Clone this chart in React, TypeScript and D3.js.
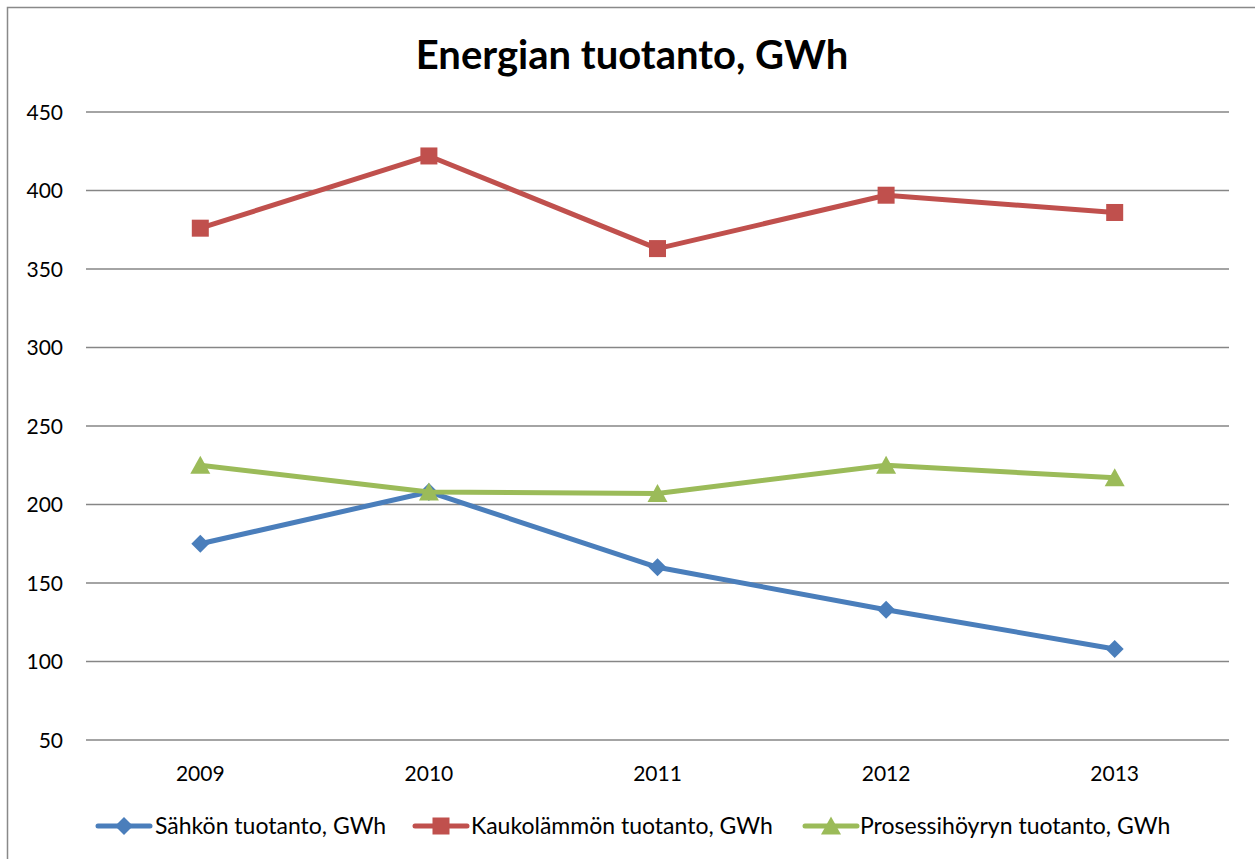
import React from "react";
import * as d3 from "d3";

const years = ["2009", "2010", "2011", "2012", "2013"];
const sahko = [175, 208, 160, 133, 108];
const kaukolampo = [376, 422, 363, 397, 386];
const prosessihoyry = [225, 208, 207, 225, 217];
const yTicks = [50, 100, 150, 200, 250, 300, 350, 400, 450];
const seriesNames = ["Sähkön tuotanto, GWh", "Kaukolämmön tuotanto, GWh", "Prosessihöyryn tuotanto, GWh"];

const W = 1255, H = 859;
const left = 86, right = 1229, top = 112, bottom = 740;
const font = "Lato, 'Open Sans', sans-serif";

const colors = ["#4A7EBB", "#C0504D", "#9BBB59"];
const markers = ["diamond", "square", "triangle"];

function Marker({ type, x, y, color }: { type: string; x: number; y: number; color: string }) {
  if (type === "diamond") {
    const r = 9;
    return <path d={`M${x},${y - r}L${x + r},${y}L${x},${y + r}L${x - r},${y}Z`} fill={color} />;
  }
  if (type === "square") {
    const s = 17;
    return <rect x={x - s / 2} y={y - s / 2} width={s} height={s} fill={color} />;
  }
  const h = 17, w = 20;
  return <path d={`M${x},${y - h / 2 - 1}L${x + w / 2},${y + h / 2}L${x - w / 2},${y + h / 2}Z`} fill={color} />;
}

export default function App() {
  const x = d3.scalePoint<string>().domain(years).range([left, right]).padding(0.5);
  const y = d3.scaleLinear().domain([50, 450]).range([bottom, top]);
  const data = [sahko, kaukolampo, prosessihoyry];
  const line = d3
    .line<number>()
    .x((_, i) => x(years[i]) as number)
    .y((d) => y(d));

  const legendItems = [
    { lx: 98, tx: 155 },
    { lx: 415, tx: 471 },
    { lx: 805, tx: 860 },
  ];

  return (
    <svg width={W} height={H} style={{ position: "absolute", left: 0, top: 0 }}>
      <rect x={0} y={0} width={W} height={H} fill="#fff" />
      <rect x={7.5} y={7.5} width={W + 20} height={H + 20} fill="none" stroke="#898989" strokeWidth={1.5} />
      <text x={632} y={69} textAnchor="middle" fontFamily={font} fontWeight="bold" fontSize={40} fill="#000">
        Energian tuotanto, GWh
      </text>
      {yTicks.map((t) => (
        <g key={t}>
          <line x1={left} x2={right} y1={y(t)} y2={y(t)} stroke="#868686" strokeWidth={1.5} />
          <text x={63} y={y(t) + 7.5} textAnchor="end" fontFamily={font} fontSize={21} fill="#000">
            {t}
          </text>
        </g>
      ))}
      {years.map((yr) => (
        <text key={yr} x={x(yr)} y={781} textAnchor="middle" fontFamily={font} fontSize={21} fill="#000">
          {yr}
        </text>
      ))}
      {data.map((s, si) => (
        <g key={si}>
          <path d={line(s) || ""} fill="none" stroke={colors[si]} strokeWidth={5} strokeLinejoin="round" />
          {s.map((v, i) => (
            <Marker key={i} type={markers[si]} x={x(years[i]) as number} y={y(v)} color={colors[si]} />
          ))}
        </g>
      ))}
      {seriesNames.map((n, i) => (
        <g key={n}>
          <line x1={legendItems[i].lx} x2={legendItems[i].lx + 52} y1={826} y2={826} stroke={colors[i]} strokeWidth={5} strokeLinecap="round" />
          <Marker type={markers[i]} x={legendItems[i].lx + 26} y={826} color={colors[i]} />
          <text x={legendItems[i].tx} y={834} fontFamily={font} fontSize={23} fill="#000">
            {n}
          </text>
        </g>
      ))}
    </svg>
  );
}
